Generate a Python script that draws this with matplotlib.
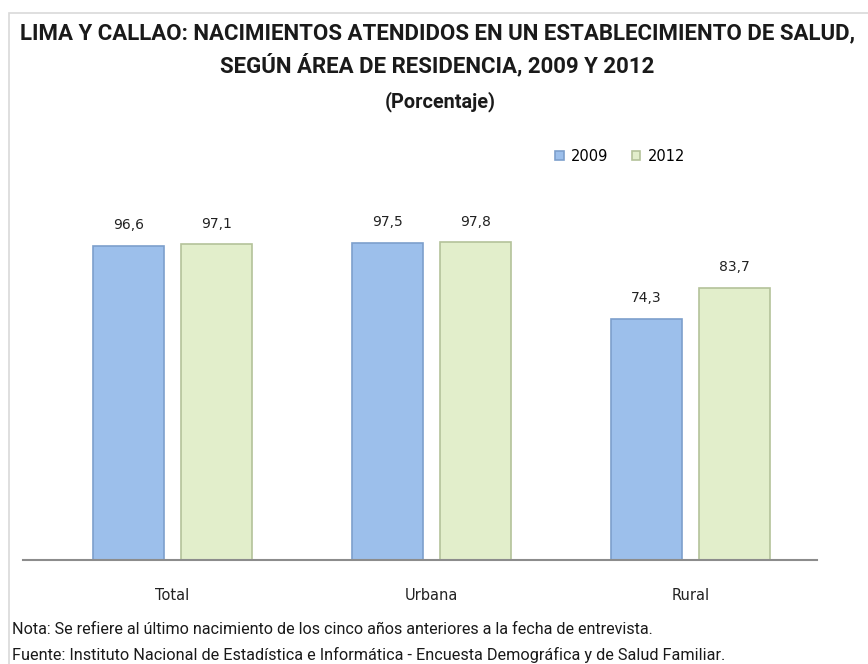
import numpy as np
import matplotlib.pyplot as plt
from matplotlib.patches import Rectangle

# datos
categorias = ["Total", "Urbana", "Rural"]
anios = ["2009", "2012"]
valores_2009 = [96.6, 97.5, 74.3]
valores_2012 = [97.1, 97.8, 83.7]

W, H = 868, 664

fig = plt.figure(figsize=(W / 100, H / 100), dpi=100, facecolor="white")

def fx(px):
    return px / W

def fy(py):
    return 1 - py / H

def ajustar(t, ancho_px):
    # ajusta el tamaño de letra para que el texto ocupe el ancho deseado
    r = fig.canvas.get_renderer()
    w = t.get_window_extent(renderer=r).width
    t.set_fontsize(t.get_fontsize() * ancho_px / w)

# marco gris claro
fig.patches.append(Rectangle((fx(9), fy(670)), fx(900), fy(13) - fy(670),
                             transform=fig.transFigure, fill=False,
                             edgecolor="#d9d9d9", linewidth=1.2))

# ejes en pixeles: izquierda 23, derecha 817, base 560, arriba 170
ax = fig.add_axes([fx(23), fy(560), fx(817 - 23), fy(170) - fy(560)])
ax.set_xlim(-0.577, 2.488)
ax.set_ylim(0, 120)

x = np.arange(len(categorias))
ancho = 0.274
desp = 0.17
b1 = ax.bar(x - desp, valores_2009, ancho, color="#9cbfeb", edgecolor="#7d9fcc",
            linewidth=1.2, label=anios[0], zorder=2)
b2 = ax.bar(x + desp, valores_2012, ancho, color="#e2eecb", edgecolor="#b4c29a",
            linewidth=1.2, label=anios[1], zorder=2)

for barras in (b1, b2):
    for b in barras:
        h = b.get_height()
        ax.text(b.get_x() + b.get_width() / 2, h + 4.2, f"{h:.1f}".replace(".", ","),
                ha="center", va="bottom", fontsize=10, color="#222222")

for s in ["top", "right", "left"]:
    ax.spines[s].set_visible(False)
ax.spines["bottom"].set_color("#8c8c8c")
ax.spines["bottom"].set_linewidth(1.5)
ax.set_yticks([])
ax.set_xticks(x)
ax.set_xticklabels(categorias, fontsize=10.5, color="#222222")
ax.tick_params(axis="x", length=0, pad=20)

ax.legend(loc="center", bbox_to_anchor=(fx(620), fy(156)), bbox_transform=fig.transFigure,
          ncol=2, frameon=False, fontsize=10.5, handlelength=0.6, handleheight=0.6,
          handletextpad=0.5, columnspacing=1.6)

# titulos
t1 = fig.text(fx(437), fy(33), "LIMA Y CALLAO: NACIMIENTOS ATENDIDOS EN UN ESTABLECIMIENTO DE SALUD,",
              ha="center", va="center", fontsize=14, fontweight="bold", family="Roboto", color="#1a1a1a")
t2 = fig.text(fx(437), fy(66), "SEGÚN ÁREA DE RESIDENCIA, 2009 Y 2012",
              ha="center", va="center", fontsize=14, fontweight="bold", family="Roboto", color="#1a1a1a")
t3 = fig.text(fx(440), fy(102), "(Porcentaje)",
              ha="center", va="center", fontsize=12, fontweight="bold", family="Roboto", color="#1a1a1a")
ajustar(t1, 840)
t2.set_fontsize(t1.get_fontsize())
ajustar(t3, 111)

# notas
n1 = fig.text(fx(12), fy(630), "Nota: Se refiere al último nacimiento de los cinco años anteriores a la fecha de entrevista.",
              ha="left", va="center", fontsize=10, family="Roboto", color="#1a1a1a")
n2 = fig.text(fx(12), fy(655), "Fuente: Instituto Nacional de Estadística e Informática - Encuesta Demográfica y de Salud Familiar.",
              ha="left", va="center", fontsize=10, family="Roboto", color="#1a1a1a")
ajustar(n1, 640)
ajustar(n2, 711)

fig.savefig("out.png", dpi=100, facecolor="white")
